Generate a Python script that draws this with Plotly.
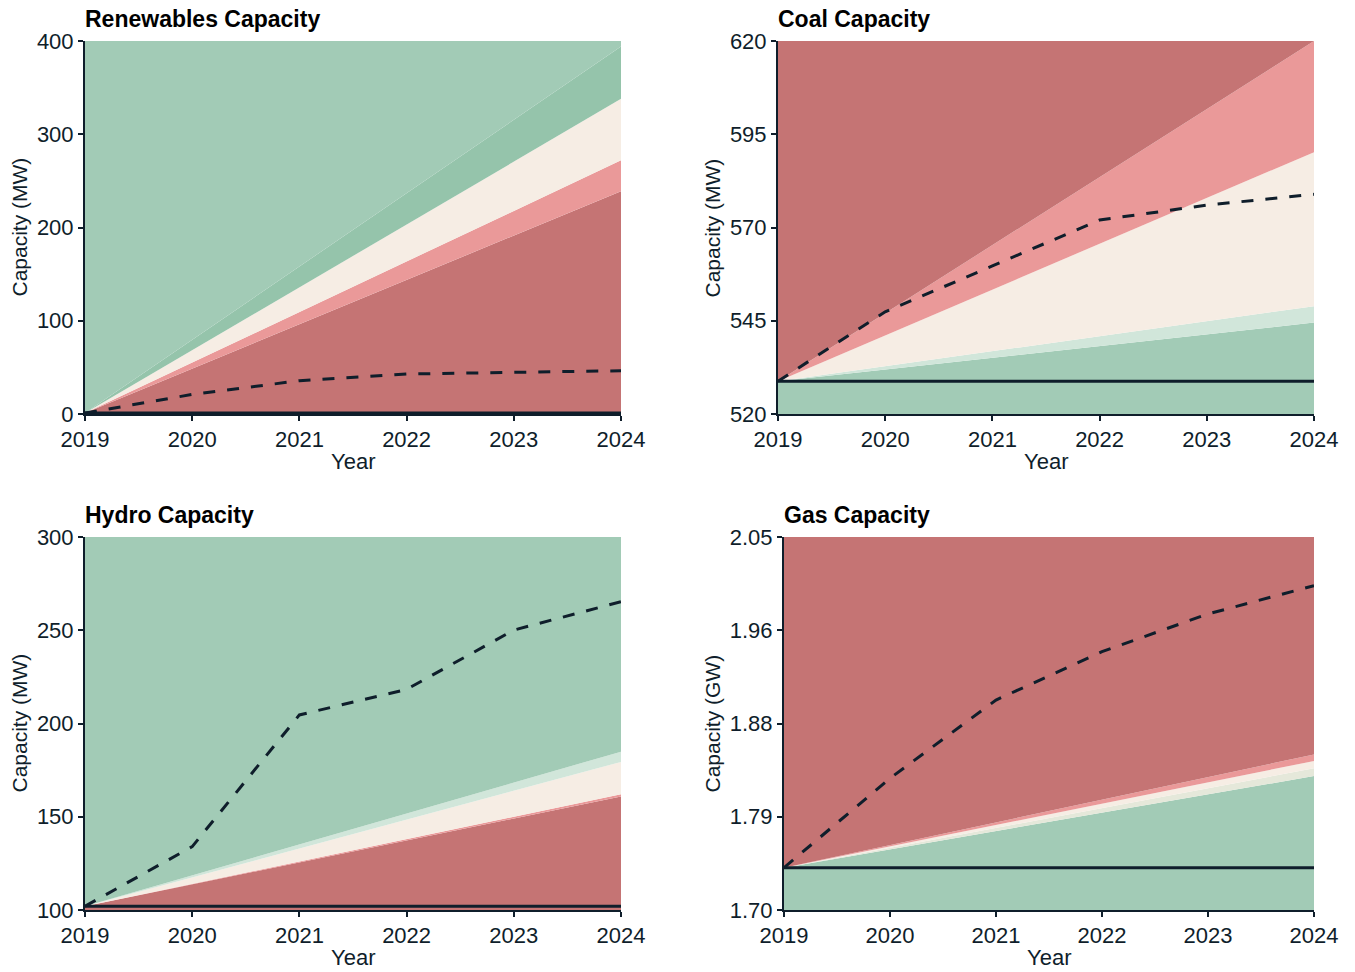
import plotly.graph_objects as go

W, H = 1355, 972
OX, OY = 7, 8  # page offset of the figure inside the browser window

years = [2019, 2020, 2021, 2022, 2023, 2024]
band_years = [2019, 2024]

# Renewables (MW)
ren_baseline = [1, 1]
ren_bands = [[1, 239], [1, 272], [1, 338], [1, 394]]
ren_projection = [1, 21, 35.7, 42.9, 44.7, 46.4]
ren_ticks = [0, 100, 200, 300, 400]
ren_ticktext = ["0", "100", "200", "300", "400"]

# Coal (MW)
coal_baseline = [528.8, 528.8]
coal_bands = [[528.8, 544.5], [528.8, 548.9], [528.8, 590.2], [528.8, 620]]
coal_projection = [528.8, 547.4, 559.7, 572.0, 576.0, 578.9]
coal_ticks = [520, 545, 570, 595, 620]
coal_ticktext = ["520", "545", "570", "595", "620"]

# Hydro (MW)
hydro_baseline = [102, 102]
hydro_bands = [[102, 160.8], [102, 162.0], [102, 179.4], [102, 184.9]]
hydro_projection = [102, 134, 204.6, 218.3, 250.1, 265.3]
hydro_ticks = [100, 150, 200, 250, 300]
hydro_ticktext = ["100", "150", "200", "250", "300"]

# Gas (GW)
gas_baseline = [1.7397, 1.7397]
gas_bands = [[1.7397, 1.8257], [1.7397, 1.8330], [1.7397, 1.8398], [1.7397, 1.8460]]
gas_projection = [1.7397, 1.8236, 1.897, 1.9424, 1.9778, 2.0043]
gas_ticks = [1.70, 1.7875, 1.875, 1.9625, 2.05]
gas_ticktext = ["1.70", "1.79", "1.88", "1.96", "2.05"]

DARK_RED = "#c57474"
LIGHT_RED = "#ea9999"
CREAM = "#f6ede4"
LIGHT_GREEN = "#d1e6da"
GREEN = "#a2cbb6"
MID_GREEN = "#95c4ab"
GREY_GREEN = "#e5e8da"
INK = "#0f1e2b"

panels = [
    dict(title="Renewables Capacity", ytitle="Capacity (MW)", baseline=ren_baseline,
         bands=ren_bands, proj=ren_projection, ticks=ren_ticks, ticktext=ren_ticktext,
         colors=[DARK_RED, LIGHT_RED, CREAM, MID_GREEN, GREEN],
         xdom=(84, 620), ydom=(41, 414), ytx=18),
    dict(title="Coal Capacity", ytitle="Capacity (MW)", baseline=coal_baseline,
         bands=coal_bands, proj=coal_projection, ticks=coal_ticks, ticktext=coal_ticktext,
         colors=[GREEN, LIGHT_GREEN, CREAM, LIGHT_RED, DARK_RED],
         xdom=(777, 1313), ydom=(41, 414), ytx=711),
    dict(title="Hydro Capacity", ytitle="Capacity (MW)", baseline=hydro_baseline,
         bands=hydro_bands, proj=hydro_projection, ticks=hydro_ticks, ticktext=hydro_ticktext,
         colors=[DARK_RED, LIGHT_RED, CREAM, LIGHT_GREEN, GREEN],
         xdom=(84, 620), ydom=(537, 910), ytx=18),
    dict(title="Gas Capacity", ytitle="Capacity (GW)", baseline=gas_baseline,
         bands=gas_bands, proj=gas_projection, ticks=gas_ticks, ticktext=gas_ticktext,
         colors=[GREEN, GREY_GREEN, CREAM, LIGHT_RED, DARK_RED],
         xdom=(783, 1313), ydom=(537, 910), ytx=711),
]


def px(x):
    return (x - OX) / W


def py(y):
    return 1 - (y - OY) / H


FONT = "Arial, Liberation Sans, sans-serif"
fig = go.Figure()
layout = dict(
    width=W, height=H, margin=dict(l=0, r=0, t=0, b=0, pad=0, autoexpand=False),
    paper_bgcolor="white", plot_bgcolor="white", showlegend=False,
    font=dict(family=FONT, color=INK),
)
annotations = []

for i, p in enumerate(panels):
    n = "" if i == 0 else str(i + 1)
    xa, ya = "x" + n, "y" + n
    ymin, ymax = p["ticks"][0], p["ticks"][-1]
    bounds = [[ymin, ymin]] + p["bands"] + [[ymax, ymax]]
    fig.add_trace(go.Scatter(x=band_years, y=bounds[0], mode="lines", line=dict(width=0),
                             xaxis=xa, yaxis=ya, hoverinfo="skip"))
    for k in range(1, len(bounds)):
        fig.add_trace(go.Scatter(x=band_years, y=bounds[k], mode="lines", line=dict(width=0),
                                 fill="tonexty", fillcolor=p["colors"][k - 1],
                                 xaxis=xa, yaxis=ya, hoverinfo="skip"))
    fig.add_trace(go.Scatter(x=band_years, y=p["baseline"], mode="lines",
                             line=dict(color=INK, width=3), xaxis=xa, yaxis=ya))
    fig.add_trace(go.Scatter(x=years, y=p["proj"], mode="lines",
                             line=dict(color=INK, width=3, dash="12px,12px"), xaxis=xa, yaxis=ya))

    x0, x1 = p["xdom"]
    yt, yb = p["ydom"]
    axis_common = dict(showgrid=False, zeroline=False, showline=True, linecolor=INK, linewidth=2,
                       ticks="outside", ticklen=5, tickwidth=1.5, tickcolor=INK,
                       tickfont=dict(size=22, color=INK, family=FONT))
    layout["xaxis" + n] = dict(axis_common, domain=[px(x0), px(x1)], range=[2019, 2024],
                               tickvals=years, ticktext=[str(y) for y in years],
                               anchor=ya)
    layout["yaxis" + n] = dict(axis_common, domain=[py(yb), py(yt)], range=[ymin, ymax],
                               tickvals=p["ticks"], ticktext=p["ticktext"], anchor=xa)

    annotations.append(dict(text="<b>" + p["title"] + "</b>", xref="paper", yref="paper",
                            x=px(x0 - 2), y=py(yt - 22), xanchor="left", yanchor="middle",
                            showarrow=False, font=dict(size=23, color="#000000", family=FONT)))
    annotations.append(dict(text=p["ytitle"], xref="paper", yref="paper",
                            x=px(p["ytx"]), y=py((yt + yb) / 2), textangle=-90,
                            xanchor="center", yanchor="middle", showarrow=False,
                            font=dict(size=21, color=INK, family=FONT)))
    annotations.append(dict(text="Year", xref="paper", yref="paper",
                            x=px((x0 + x1) / 2), y=py(yb + 47),
                            xanchor="center", yanchor="middle", showarrow=False,
                            font=dict(size=22, color=INK, family=FONT)))

layout["annotations"] = annotations
fig.update_layout(**layout)
fig.write_html("out.html")
